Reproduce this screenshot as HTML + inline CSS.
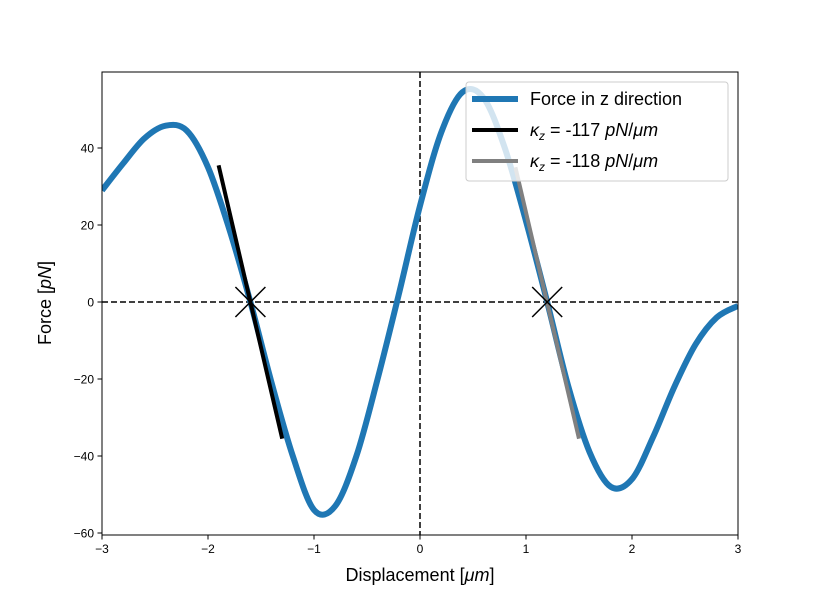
<!DOCTYPE html>
<html><head><meta charset="utf-8"><style>
body{margin:0;background:#fff}
svg{font-family:"Liberation Sans","DejaVu Sans",sans-serif}
</style></head><body>
<svg id="chart" width="819" height="601">
<rect width="819" height="601" fill="#fff"/>
<defs><clipPath id="clip"><rect x="102" y="72" width="636" height="463"/></clipPath></defs>
<g id="plot" clip-path="url(#clip)"></g>
<rect x="102" y="72" width="636" height="463" fill="none" stroke="#000" stroke-width="1"/>
<g id="ticks"></g>
<text x="420" y="581" font-size="18" text-anchor="middle">Displacement [<tspan font-style="italic">μm</tspan>]</text>
<text transform="translate(51,303) rotate(-90)" font-size="18" text-anchor="middle">Force [<tspan font-style="italic">pN</tspan>]</text>
<g>
<rect x="466" y="82" width="262" height="99" rx="3" fill="#fff" fill-opacity="0.8" stroke="#ccc"/>
<line x1="472" y1="99" x2="518" y2="99" stroke="#1f77b4" stroke-width="6"/>
<text x="530" y="105" font-size="18">Force in z direction</text>
<line x1="472" y1="130" x2="518" y2="130" stroke="#000" stroke-width="4"/>
<text x="530" y="136" font-size="18"><tspan font-style="italic">κ</tspan><tspan font-size="12" dy="4" font-style="italic">z</tspan><tspan dy="-4"> = -117 </tspan><tspan font-style="italic">pN</tspan>/<tspan font-style="italic">μm</tspan></text>
<line x1="472" y1="161" x2="518" y2="161" stroke="#808080" stroke-width="4"/>
<text x="530" y="167" font-size="18"><tspan font-style="italic">κ</tspan><tspan font-size="12" dy="4" font-style="italic">z</tspan><tspan dy="-4"> = -118 </tspan><tspan font-style="italic">pN</tspan>/<tspan font-style="italic">μm</tspan></text>
</g>
</svg>
<script>
const xs=[-3,-2.8,-2.6,-2.4,-2.2,-2,-1.8,-1.6,-1.4,-1.2,-1,-0.8,-0.6,-0.4,-0.2,0,0.2,0.4,0.6,0.8,1,1.2,1.4,1.6,1.8,2,2.2,2.4,2.6,2.8,3];
const forces=[29,36,42.5,45.8,44.5,35,19,0,-21,-40,-54,-53,-40,-20,2,25,44,54.5,53,40,21,0,-22,-39,-48,-46,-35,-22,-11,-4,-1];
const tangent1X=[-1.9,-1.3], tangent1Y=[35.5,-35.5];
const tangent2X=[0.9,1.5], tangent2Y=[35,-35.5];
const zerosX=[-1.6,1.2];
const xTicks=[-3,-2,-1,0,1,2,3];
const yTicks=[40,20,0,-20,-40,-60];
const NS="http://www.w3.org/2000/svg";
const sx=v=>420+v*106, sy=v=>302-v*3.85;
const plot=document.getElementById('plot'), tk=document.getElementById('ticks');
function mk(tag,attrs,parent){const e=document.createElementNS(NS,tag);for(const k in attrs)e.setAttribute(k,attrs[k]);parent.appendChild(e);return e;}
let hz=mk('line',{x1:102,x2:738,y1:sy(0),y2:sy(0),stroke:'#000','stroke-width':1.5,'stroke-dasharray':'6,3'},plot);


let vz=mk('line',{x1:sx(0),x2:sx(0),y1:72,y2:535,stroke:'#000','stroke-width':1.5,'stroke-dasharray':'6,3'},plot);


const P=xs.map((x,i)=>[sx(x),sy(forces[i])]);
let d='M'+P[0][0]+','+P[0][1];
for(let i=0;i<P.length-1;i++){const p0=P[Math.max(0,i-1)],p1=P[i],p2=P[i+1],p3=P[Math.min(P.length-1,i+2)];
d+=` C${p1[0]+(p2[0]-p0[0])/6},${p1[1]+(p2[1]-p0[1])/6} ${p2[0]-(p3[0]-p1[0])/6},${p2[1]-(p3[1]-p1[1])/6} ${p2[0]},${p2[1]}`;}
let c=mk('path',{d:d,fill:'none',stroke:'#1f77b4','stroke-width':6,'stroke-linejoin':'round'},plot);


let t1=mk('line',{x1:sx(tangent1X[0]),y1:sy(tangent1Y[0]),x2:sx(tangent1X[1]),y2:sy(tangent1Y[1]),stroke:'#000','stroke-width':4},plot);


let t2=mk('line',{x1:sx(tangent2X[0]),y1:sy(tangent2Y[0]),x2:sx(tangent2X[1]),y2:sy(tangent2Y[1]),stroke:'#808080','stroke-width':4},plot);


zerosX.forEach(z=>{const g=mk('g',{},plot);


const X=sx(z),Y=sy(0),r=15;
mk('line',{x1:X-r,y1:Y-r,x2:X+r,y2:Y+r,stroke:'#000','stroke-width':1.5},g);
mk('line',{x1:X-r,y1:Y+r,x2:X+r,y2:Y-r,stroke:'#000','stroke-width':1.5},g);});
xTicks.forEach(v=>{const X=sx(v);mk('line',{x1:X,x2:X,y1:535,y2:539.5,stroke:'#000'},tk);
const t=mk('text',{x:X,y:553,'font-size':12,'text-anchor':'middle'},tk);t.textContent=(v<0?'−':'')+Math.abs(v);

});
yTicks.forEach(v=>{const Y=sy(v);mk('line',{x1:97.5,x2:102,y1:Y,y2:Y,stroke:'#000'},tk);
const t=mk('text',{x:94,y:Y+4.5,'font-size':12,'text-anchor':'end'},tk);t.textContent=(v<0?'−':'')+Math.abs(v);

});
</script>
</body></html>
